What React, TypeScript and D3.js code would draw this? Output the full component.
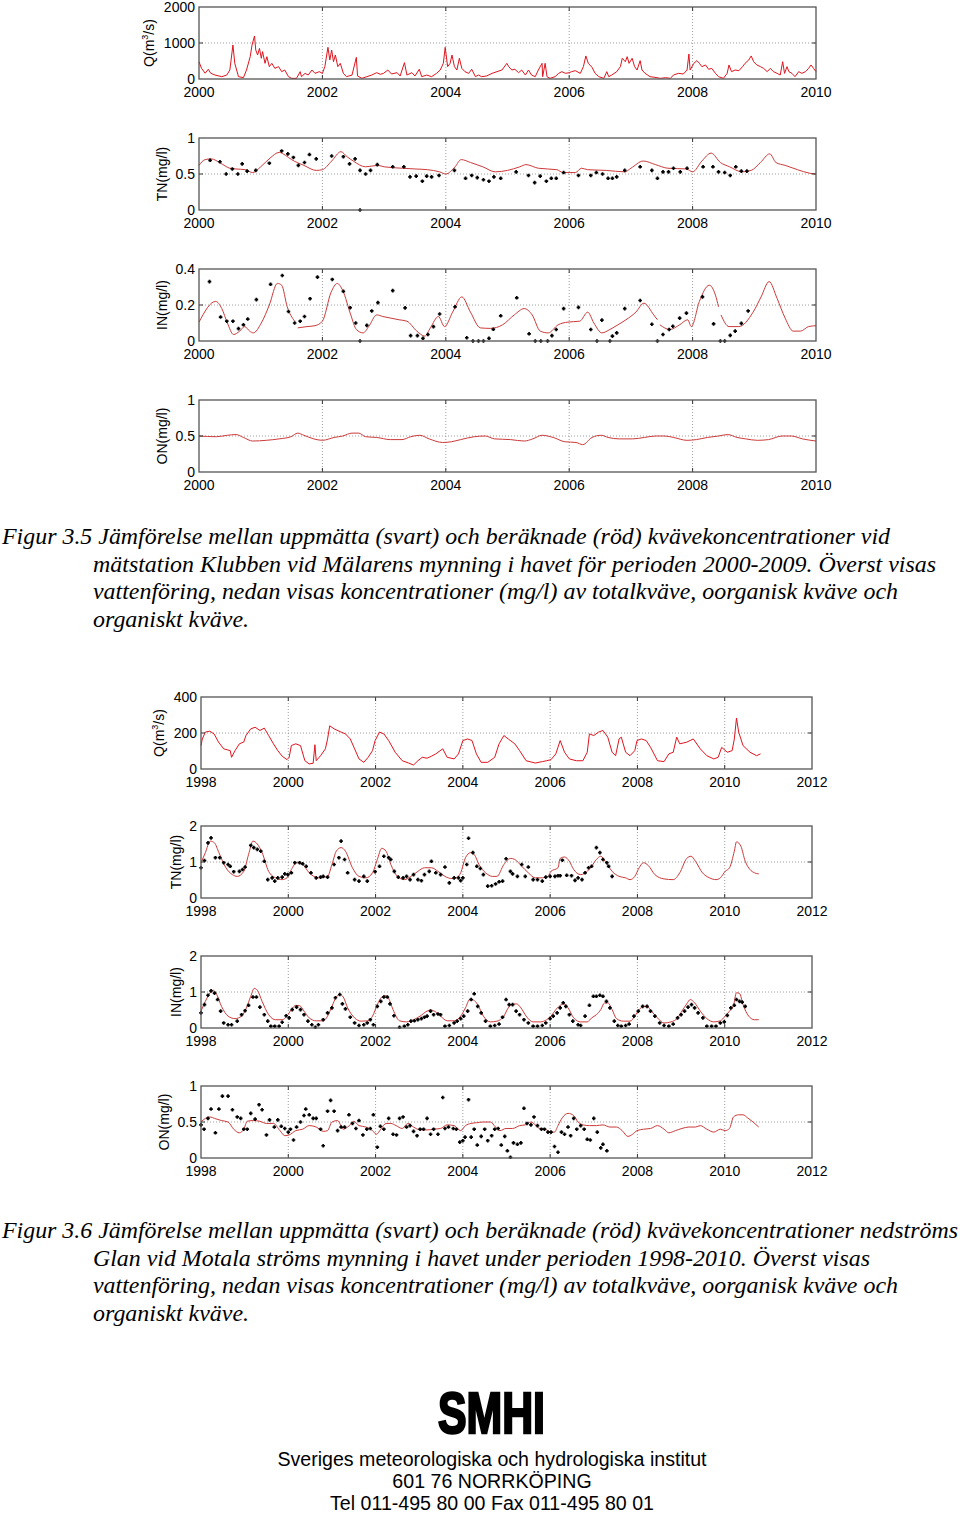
import React from 'react';
import * as d3 from 'd3';

type Pt = [number, number | null];

// ---------- Figure 3.5 (Klubben, 2000-2010) ----------
const qTop: Pt[] = [
  [2000.0, 480], [2000.04, 300], [2000.1, 160], [2000.15, 270], [2000.19, 160], [2000.26, 110], [2000.37, 65],
  [2000.45, 110], [2000.5, 250], [2000.55, 945], [2000.58, 435], [2000.64, 65], [2000.72, 37], [2000.77, 250],
  [2000.83, 620], [2000.86, 945], [2000.9, 1195], [2000.92, 805], [2000.95, 667], [2000.98, 850], [2001.01, 575],
  [2001.03, 760], [2001.07, 435], [2001.1, 620], [2001.14, 343], [2001.18, 435], [2001.23, 296], [2001.29, 343],
  [2001.34, 204], [2001.39, 250], [2001.45, 65], [2001.5, 18], [2001.58, 18], [2001.64, 204], [2001.66, 65],
  [2001.72, 157], [2001.77, 110], [2001.83, 250], [2001.88, 157], [2001.95, 204], [2002.0, 157], [2002.04, 343],
  [2002.09, 880], [2002.12, 528], [2002.15, 805], [2002.18, 480], [2002.21, 667], [2002.25, 343], [2002.29, 435],
  [2002.34, 157], [2002.39, 65], [2002.48, 110], [2002.55, 600], [2002.57, 83], [2002.64, 18], [2002.72, 65],
  [2002.8, 110], [2002.88, 176], [2002.94, 130], [2002.99, 157], [2003.06, 250], [2003.12, 139], [2003.21, 176],
  [2003.26, 83], [2003.33, 454], [2003.37, 110], [2003.45, 176], [2003.5, 83], [2003.57, 270], [2003.61, 65],
  [2003.69, 110], [2003.77, 65], [2003.85, 157], [2003.91, 250], [2003.96, 435], [2003.99, 880], [2004.03, 343],
  [2004.07, 435], [2004.1, 667], [2004.14, 343], [2004.18, 250], [2004.22, 575], [2004.26, 296], [2004.31, 204],
  [2004.37, 157], [2004.42, 270], [2004.48, 65], [2004.53, 110], [2004.58, 65], [2004.66, 83], [2004.75, 157],
  [2004.83, 204], [2004.91, 250], [2004.99, 435], [2005.02, 343], [2005.07, 250], [2005.12, 270], [2005.18, 176],
  [2005.23, 250], [2005.29, 110], [2005.34, 250], [2005.39, 110], [2005.45, 65], [2005.5, 250], [2005.56, 435],
  [2005.57, 65], [2005.61, 435], [2005.64, 65], [2005.69, 18], [2005.77, 65], [2005.83, 157], [2005.88, 204],
  [2005.94, 157], [2006.0, 176], [2006.04, 204], [2006.1, 231], [2006.18, 157], [2006.23, 343], [2006.27, 640],
  [2006.31, 435], [2006.37, 324], [2006.42, 157], [2006.48, 65], [2006.56, 18], [2006.61, 204], [2006.64, 65],
  [2006.69, 110], [2006.77, 204], [2006.83, 343], [2006.86, 575], [2006.91, 480], [2006.94, 620], [2006.97, 435],
  [2007.02, 575], [2007.06, 343], [2007.1, 250], [2007.15, 510], [2007.18, 250], [2007.23, 157], [2007.31, 65],
  [2007.39, 46], [2007.48, 18], [2007.56, 37], [2007.64, 18], [2007.69, 110], [2007.77, 157], [2007.85, 139],
  [2007.91, 250], [2007.94, 695], [2007.96, 250], [2008.02, 435], [2008.07, 510], [2008.11, 435], [2008.15, 343],
  [2008.21, 390], [2008.26, 270], [2008.31, 296], [2008.37, 157], [2008.42, 65], [2008.5, 18], [2008.56, 157],
  [2008.59, 390], [2008.63, 204], [2008.69, 250], [2008.75, 231], [2008.81, 343], [2008.85, 435], [2008.91, 528],
  [2008.95, 640], [2008.99, 480], [2009.04, 390], [2009.1, 343], [2009.15, 296], [2009.21, 204], [2009.26, 296],
  [2009.31, 204], [2009.37, 157], [2009.42, 110], [2009.46, 480], [2009.49, 157], [2009.53, 343], [2009.56, 204],
  [2009.61, 157], [2009.66, 65], [2009.72, 204], [2009.77, 157], [2009.83, 204], [2009.88, 296], [2009.92, 390],
  [2009.96, 296], [2010.0, 204],
];

const tnTopModel: Pt[] = [
  [2000.0, 0.62], [2000.1, 0.7], [2000.2, 0.71], [2000.35, 0.65], [2000.5, 0.58], [2000.6, 0.57], [2000.75, 0.56],
  [2000.87, 0.52], [2001.0, 0.6], [2001.15, 0.72], [2001.3, 0.8], [2001.4, 0.76], [2001.5, 0.7], [2001.7, 0.62],
  [2001.9, 0.55], [2002.0, 0.56], [2002.15, 0.68], [2002.3, 0.81], [2002.4, 0.74], [2002.5, 0.68], [2002.7, 0.6],
  [2002.9, 0.62], [2003.0, 0.6], [2003.3, 0.58], [2003.5, 0.57], [2003.7, 0.56], [2003.9, 0.53], [2004.0, 0.5],
  [2004.15, 0.6], [2004.25, 0.7], [2004.4, 0.66], [2004.6, 0.6], [2004.8, 0.53], [2005.0, 0.55], [2005.2, 0.6],
  [2005.3, 0.63], [2005.5, 0.58], [2005.8, 0.56], [2005.9, 0.52], [2006.1, 0.52], [2006.2, 0.58], [2006.3, 0.56],
  [2006.6, 0.55], [2006.9, 0.53], [2007.0, 0.58], [2007.2, 0.68], [2007.4, 0.63], [2007.6, 0.58], [2007.9, 0.57],
  [2008.0, 0.53], [2008.15, 0.68], [2008.3, 0.79], [2008.45, 0.66], [2008.6, 0.6], [2008.8, 0.53], [2008.95, 0.55],
  [2009.1, 0.66], [2009.25, 0.78], [2009.35, 0.66], [2009.5, 0.62], [2009.7, 0.56], [2009.9, 0.51], [2010.0, 0.5],
];

const tnTopObs: Pt[] = [
  [2000.18, 0.69], [2000.34, 0.67], [2000.44, 0.5], [2000.54, 0.57], [2000.63, 0.5], [2000.7, 0.64], [2000.78, 0.54],
  [2000.92, 0.55], [2001.14, 0.65], [2001.34, 0.82], [2001.44, 0.78], [2001.53, 0.73], [2001.61, 0.62], [2001.71, 0.66],
  [2001.79, 0.77], [2001.9, 0.71], [2002.15, 0.75], [2002.34, 0.74], [2002.44, 0.64], [2002.53, 0.71], [2002.61, 0.55],
  [2002.61, 0.0], [2002.7, 0.5], [2002.78, 0.55], [2002.89, 0.63], [2003.14, 0.6], [2003.32, 0.6], [2003.42, 0.46],
  [2003.52, 0.47], [2003.62, 0.4], [2003.69, 0.47], [2003.77, 0.46], [2003.89, 0.48], [2004.14, 0.55], [2004.32, 0.44],
  [2004.42, 0.48], [2004.51, 0.45], [2004.61, 0.42], [2004.7, 0.4], [2004.78, 0.46], [2004.89, 0.44], [2005.14, 0.53],
  [2005.34, 0.48], [2005.44, 0.38], [2005.53, 0.47], [2005.63, 0.4], [2005.71, 0.44], [2005.79, 0.44], [2005.91, 0.52],
  [2006.15, 0.48], [2006.35, 0.48], [2006.44, 0.52], [2006.54, 0.5], [2006.63, 0.44], [2006.7, 0.44], [2006.77, 0.46],
  [2006.9, 0.55], [2007.15, 0.6], [2007.34, 0.55], [2007.43, 0.44], [2007.52, 0.53], [2007.61, 0.53], [2007.69, 0.58],
  [2007.8, 0.53], [2007.91, 0.58], [2008.17, 0.6], [2008.33, 0.6], [2008.42, 0.53], [2008.52, 0.52], [2008.61, 0.48],
  [2008.7, 0.6], [2008.79, 0.54], [2008.88, 0.54],
];

const inTopModel: Pt[] = [
  [2000.0, 0.105], [2000.27, 0.22], [2000.37, 0.18], [2000.46, 0.1], [2000.56, 0.036], [2000.66, 0.055], [2000.74, 0.08],
  [2000.82, 0.055], [2000.88, 0.045], [2001.01, 0.1], [2001.14, 0.2], [2001.27, 0.32], [2001.34, 0.31], [2001.43, 0.19],
  [2001.55, 0.11], [2001.57, null], [2001.6, 0.073], [2001.75, 0.08], [2001.88, 0.085], [2002.0, 0.11], [2002.14, 0.27],
  [2002.24, 0.32], [2002.33, 0.28], [2002.46, 0.145], [2002.55, 0.064], [2002.66, 0.045], [2002.75, 0.08], [2002.88, 0.145],
  [2002.98, 0.136], [2003.11, 0.127], [2003.24, 0.118], [2003.37, 0.11], [2003.53, 0.055], [2003.66, 0.027], [2003.75, 0.073],
  [2003.88, 0.136], [2003.98, 0.08], [2004.11, 0.16], [2004.26, 0.245], [2004.4, 0.16], [2004.56, 0.073], [2004.72, 0.07],
  [2004.92, 0.09], [2005.11, 0.145], [2005.27, 0.18], [2005.4, 0.145], [2005.53, 0.055], [2005.66, 0.045], [2005.82, 0.09],
  [2005.98, 0.105], [2006.17, 0.11], [2006.3, 0.16], [2006.4, 0.1], [2006.53, 0.045], [2006.66, 0.064], [2006.79, 0.09],
  [2006.92, 0.118], [2007.08, 0.16], [2007.21, 0.21], [2007.37, 0.145], [2007.43, 0.118], [2007.45, null], [2007.47, 0.09],
  [2007.63, 0.064], [2007.79, 0.09], [2007.92, 0.118], [2007.98, 0.08], [2008.11, 0.22], [2008.27, 0.31], [2008.37, 0.255],
  [2008.42, 0.19], [2008.44, null], [2008.46, 0.145], [2008.59, 0.08], [2008.75, 0.08], [2008.98, 0.16], [2009.11, 0.245],
  [2009.24, 0.33], [2009.37, 0.236], [2009.5, 0.127], [2009.63, 0.055], [2009.75, 0.055], [2009.88, 0.08], [2010.0, 0.085],
];

const inTopObs: Pt[] = [
  [2000.17, 0.33], [2000.35, 0.133], [2000.45, 0.11], [2000.55, 0.11], [2000.64, 0.069], [2000.72, 0.09], [2000.79, 0.122],
  [2000.93, 0.23], [2001.16, 0.315], [2001.35, 0.364], [2001.45, 0.164], [2001.55, 0.1], [2001.64, 0.11], [2001.71, 0.136],
  [2001.8, 0.235], [2001.92, 0.355], [2002.16, 0.342], [2002.34, 0.276], [2002.45, 0.185], [2002.54, 0.1], [2002.61, 0.0],
  [2002.72, 0.087], [2002.8, 0.167], [2002.9, 0.213], [2003.14, 0.28], [2003.34, 0.184], [2003.43, 0.03], [2003.54, 0.03],
  [2003.63, 0.015], [2003.71, 0.036], [2003.8, 0.08], [2003.9, 0.15], [2004.15, 0.19], [2004.34, 0.018], [2004.44, 0.0],
  [2004.53, 0.0], [2004.61, 0.0], [2004.7, 0.015], [2004.77, 0.065], [2004.89, 0.14], [2005.15, 0.24], [2005.35, 0.04],
  [2005.45, 0.0], [2005.54, 0.0], [2005.65, 0.0], [2005.72, 0.03], [2005.79, 0.064], [2005.91, 0.18], [2006.15, 0.187],
  [2006.35, 0.064], [2006.45, 0.0], [2006.53, 0.116], [2006.66, 0.0], [2006.7, 0.027], [2006.77, 0.045], [2006.9, 0.18],
  [2007.15, 0.225], [2007.34, 0.093], [2007.43, 0.0], [2007.52, 0.036], [2007.62, 0.064], [2007.68, 0.082], [2007.79, 0.127],
  [2007.9, 0.155], [2008.16, 0.245], [2008.34, 0.095], [2008.45, 0.0], [2008.52, 0.0], [2008.61, 0.031], [2008.69, 0.055],
  [2008.79, 0.098], [2008.9, 0.167],
];

const onTopModel: Pt[] = [
  [2000.0, 0.5], [2000.28, 0.49], [2000.46, 0.51], [2000.6, 0.52], [2000.72, 0.48], [2000.87, 0.43], [2001.09, 0.44],
  [2001.3, 0.46], [2001.49, 0.49], [2001.6, 0.54], [2001.7, 0.51], [2001.86, 0.46], [2002.0, 0.44], [2002.19, 0.48],
  [2002.33, 0.5], [2002.48, 0.54], [2002.59, 0.54], [2002.7, 0.49], [2002.88, 0.48], [2003.1, 0.45], [2003.29, 0.45],
  [2003.43, 0.49], [2003.58, 0.51], [2003.73, 0.46], [2003.95, 0.41], [2004.09, 0.42], [2004.24, 0.45], [2004.46, 0.49],
  [2004.64, 0.5], [2004.79, 0.46], [2005.05, 0.45], [2005.27, 0.43], [2005.41, 0.46], [2005.56, 0.51], [2005.74, 0.48],
  [2005.93, 0.42], [2006.11, 0.41], [2006.22, 0.38], [2006.37, 0.48], [2006.52, 0.51], [2006.63, 0.48], [2006.81, 0.46],
  [2007.03, 0.46], [2007.22, 0.48], [2007.4, 0.5], [2007.55, 0.5], [2007.69, 0.48], [2007.91, 0.44], [2008.06, 0.45],
  [2008.24, 0.48], [2008.42, 0.5], [2008.57, 0.52], [2008.72, 0.48], [2008.86, 0.46], [2009.05, 0.44], [2009.23, 0.45],
  [2009.45, 0.5], [2009.6, 0.5], [2009.78, 0.46], [2010.0, 0.43],
];

// ---------- Figure 3.6 (Motala ström, 1998-2012) ----------
const qBot: Pt[] = [
  [1998.0, 130], [1998.03, 167], [1998.1, 205], [1998.2, 210], [1998.3, 195], [1998.4, 150], [1998.52, 112], [1998.67, 102],
  [1998.7, 65], [1998.78, 102], [1998.88, 140], [1998.98, 150], [1999.03, 186], [1999.14, 223], [1999.24, 232], [1999.35, 214],
  [1999.45, 227], [1999.55, 186], [1999.66, 140], [1999.76, 102], [1999.86, 71], [1999.97, 52], [2000.02, 65], [2000.07, 130],
  [2000.17, 140], [2000.28, 130], [2000.38, 46], [2000.48, 28], [2000.57, 32], [2000.61, 135], [2000.64, 46], [2000.74, 74],
  [2000.85, 112], [2000.9, 167], [2000.95, 240], [2001.05, 223], [2001.21, 205], [2001.31, 195], [2001.42, 167], [2001.52, 112],
  [2001.62, 56], [2001.73, 37], [2001.83, 65], [2001.93, 102], [2001.99, 158], [2002.09, 205], [2002.19, 195], [2002.3, 158],
  [2002.45, 93], [2002.61, 46], [2002.76, 33], [2002.87, 22], [2002.97, 46], [2003.07, 65], [2003.18, 60], [2003.28, 71],
  [2003.38, 84], [2003.54, 112], [2003.64, 65], [2003.8, 56], [2003.9, 84], [2004.0, 158], [2004.11, 167], [2004.21, 158],
  [2004.31, 84], [2004.42, 37], [2004.57, 37], [2004.73, 65], [2004.83, 140], [2004.94, 186], [2005.04, 167], [2005.19, 140],
  [2005.3, 102], [2005.45, 46], [2005.66, 33], [2005.82, 41], [2005.92, 46], [2006.02, 52], [2006.13, 84], [2006.23, 158],
  [2006.33, 93], [2006.44, 56], [2006.6, 46], [2006.75, 46], [2006.85, 93], [2006.9, 195], [2007.0, 186], [2007.11, 205],
  [2007.21, 214], [2007.32, 177], [2007.42, 93], [2007.5, 74], [2007.58, 167], [2007.63, 177], [2007.73, 93], [2007.83, 74],
  [2007.94, 102], [2007.99, 158], [2008.09, 167], [2008.2, 158], [2008.3, 121], [2008.46, 46], [2008.61, 41], [2008.72, 84],
  [2008.82, 93], [2008.9, 177], [2008.97, 140], [2009.13, 149], [2009.28, 167], [2009.44, 112], [2009.59, 74], [2009.75, 56],
  [2009.85, 65], [2009.93, 120], [2010.06, 93], [2010.17, 102], [2010.22, 167], [2010.27, 283], [2010.32, 205], [2010.42, 130],
  [2010.58, 93], [2010.73, 74], [2010.82, 84],
];

const tnBotModel: Pt[] = [
  [1998.0, 0.98], [1998.1, 1.26], [1998.21, 1.58], [1998.31, 1.53], [1998.41, 1.26], [1998.57, 0.84], [1998.72, 0.65],
  [1998.83, 0.6], [1998.98, 0.74], [1999.09, 1.21], [1999.19, 1.58], [1999.29, 1.5], [1999.4, 1.26], [1999.55, 0.74],
  [1999.71, 0.56], [1999.86, 0.51], [1999.97, 0.56], [2000.07, 0.79], [2000.19, 0.98], [2000.33, 0.93], [2000.48, 0.7],
  [2000.69, 0.56], [2000.9, 0.6], [2001.0, 0.93], [2001.1, 1.3], [2001.21, 1.4], [2001.31, 1.3], [2001.47, 0.84],
  [2001.62, 0.6], [2001.78, 0.56], [2001.93, 0.7], [2002.04, 1.07], [2002.14, 1.38], [2002.24, 1.3], [2002.35, 0.93],
  [2002.5, 0.6], [2002.66, 0.51], [2002.81, 0.6], [2002.97, 0.74], [2003.12, 0.84], [2003.28, 0.84], [2003.43, 0.74],
  [2003.59, 0.6], [2003.75, 0.54], [2003.85, 0.56], [2003.95, 0.7], [2004.06, 1.12], [2004.18, 1.26], [2004.26, 1.21],
  [2004.37, 0.93], [2004.52, 0.7], [2004.68, 0.6], [2004.78, 0.6], [2004.94, 0.93], [2005.09, 1.1], [2005.19, 1.07],
  [2005.35, 0.88], [2005.5, 0.7], [2005.66, 0.56], [2005.82, 0.56], [2005.95, 0.6], [2006.02, 0.74], [2006.18, 0.84],
  [2006.23, 1.1], [2006.33, 1.14], [2006.44, 1.02], [2006.54, 0.79], [2006.7, 0.65], [2006.85, 0.74], [2006.95, 0.88],
  [2007.06, 1.07], [2007.16, 1.16], [2007.26, 1.02], [2007.42, 0.74], [2007.58, 0.6], [2007.73, 0.56], [2007.83, 0.51],
  [2007.94, 0.6], [2008.04, 0.84], [2008.14, 0.98], [2008.25, 0.9], [2008.4, 0.65], [2008.61, 0.53], [2008.82, 0.51],
  [2008.97, 0.7], [2009.13, 1.1], [2009.23, 1.16], [2009.33, 1.02], [2009.49, 0.7], [2009.65, 0.56], [2009.8, 0.51],
  [2009.9, 0.56], [2010.01, 0.74], [2010.11, 0.84], [2010.22, 1.3], [2010.27, 1.56], [2010.37, 1.44], [2010.47, 1.02],
  [2010.58, 0.79], [2010.68, 0.7], [2010.78, 0.67],
];

const tnBotObs: Pt[] = [
  [1998.0, 0.84], [1998.08, 1.04], [1998.16, 1.53], [1998.23, 1.67], [1998.33, 1.12], [1998.43, 1.12], [1998.52, 0.98],
  [1998.62, 0.93], [1998.67, 0.88], [1998.75, 0.73], [1998.88, 0.74], [1998.95, 0.79], [1999.01, 0.86], [1999.14, 1.46],
  [1999.21, 1.4], [1999.29, 1.35], [1999.37, 1.3], [1999.45, 1.02], [1999.53, 0.51], [1999.63, 0.56], [1999.69, 0.47],
  [1999.76, 0.56], [1999.86, 0.58], [1999.92, 0.67], [1999.99, 0.65], [2000.07, 0.7], [2000.15, 0.98], [2000.26, 0.98],
  [2000.33, 0.95], [2000.41, 0.88], [2000.52, 0.7], [2000.64, 0.56], [2000.74, 0.58], [2000.8, 0.6], [2000.9, 0.58],
  [2001.05, 0.93], [2001.16, 1.12], [2001.21, 1.58], [2001.29, 1.07], [2001.36, 0.7], [2001.52, 0.51], [2001.62, 0.47],
  [2001.73, 0.6], [2001.81, 0.47], [2001.99, 0.73], [2002.09, 0.88], [2002.19, 1.16], [2002.3, 1.12], [2002.35, 1.07],
  [2002.43, 0.74], [2002.52, 0.58], [2002.63, 0.56], [2002.71, 0.6], [2002.79, 0.51], [2002.87, 0.65], [2002.97, 0.51],
  [2003.05, 0.48], [2003.12, 0.65], [2003.23, 0.74], [2003.28, 1.02], [2003.38, 0.7], [2003.49, 0.65], [2003.59, 0.86],
  [2003.69, 0.42], [2003.8, 0.56], [2003.9, 0.56], [2003.95, 0.48], [2004.0, 0.56], [2004.09, 0.93], [2004.13, 1.66],
  [2004.23, 1.26], [2004.32, 0.88], [2004.4, 0.82], [2004.47, 0.65], [2004.57, 0.33], [2004.66, 0.34], [2004.75, 0.39],
  [2004.83, 0.45], [2004.91, 0.47], [2004.99, 1.09], [2005.09, 0.74], [2005.14, 0.67], [2005.25, 0.6], [2005.35, 0.93],
  [2005.43, 0.6], [2005.5, 0.86], [2005.61, 0.51], [2005.71, 0.51], [2005.82, 0.47], [2005.9, 0.58], [2006.0, 0.6],
  [2006.11, 0.6], [2006.18, 0.62], [2006.23, 0.62], [2006.28, 1.05], [2006.38, 0.63], [2006.49, 0.62], [2006.57, 0.49],
  [2006.64, 0.56], [2006.73, 0.51], [2006.8, 0.7], [2006.88, 0.84], [2006.95, 0.88], [2007.06, 1.4], [2007.14, 1.26],
  [2007.21, 1.07], [2007.3, 0.98], [2007.34, 0.88], [2007.42, 0.6],
];

const inBotModel: Pt[] = [
  [1998.0, 0.47], [1998.1, 0.74], [1998.21, 0.98], [1998.28, 1.05], [1998.36, 0.93], [1998.47, 0.6], [1998.62, 0.33],
  [1998.78, 0.26], [1998.93, 0.33], [1999.04, 0.56], [1999.14, 0.88], [1999.22, 1.1], [1999.29, 1.05], [1999.4, 0.74],
  [1999.55, 0.37], [1999.71, 0.23], [1999.86, 0.23], [1999.97, 0.33], [2000.07, 0.51], [2000.17, 0.63], [2000.26, 0.62],
  [2000.36, 0.47], [2000.48, 0.28], [2000.64, 0.2], [2000.8, 0.2], [2000.9, 0.33], [2001.0, 0.6], [2001.1, 0.86],
  [2001.18, 0.93], [2001.26, 0.86], [2001.36, 0.56], [2001.52, 0.28], [2001.67, 0.19], [2001.83, 0.2], [2001.93, 0.33],
  [2002.04, 0.65], [2002.14, 0.86], [2002.22, 0.9], [2002.3, 0.82], [2002.4, 0.51], [2002.55, 0.2], [2002.71, 0.17],
  [2002.87, 0.23], [2003.02, 0.33], [2003.18, 0.47], [2003.26, 0.5], [2003.36, 0.46], [2003.49, 0.33], [2003.64, 0.2],
  [2003.8, 0.2], [2003.95, 0.33], [2004.06, 0.56], [2004.16, 0.8], [2004.24, 0.78], [2004.34, 0.65], [2004.47, 0.33],
  [2004.63, 0.17], [2004.78, 0.19], [2004.94, 0.33], [2005.04, 0.56], [2005.14, 0.66], [2005.23, 0.67], [2005.33, 0.56],
  [2005.45, 0.33], [2005.61, 0.17], [2005.78, 0.17], [2005.92, 0.23], [2006.02, 0.33], [2006.13, 0.51], [2006.26, 0.65],
  [2006.31, 0.67], [2006.41, 0.56], [2006.54, 0.28], [2006.7, 0.17], [2006.85, 0.17], [2006.95, 0.28], [2007.06, 0.37],
  [2007.16, 0.51], [2007.24, 0.69], [2007.32, 0.7], [2007.42, 0.51], [2007.52, 0.26], [2007.68, 0.19], [2007.83, 0.19],
  [2007.94, 0.33], [2008.04, 0.51], [2008.14, 0.6], [2008.22, 0.6], [2008.32, 0.47], [2008.46, 0.28], [2008.61, 0.14],
  [2008.77, 0.17], [2008.92, 0.28], [2009.02, 0.47], [2009.13, 0.67], [2009.21, 0.79], [2009.31, 0.7], [2009.44, 0.47],
  [2009.59, 0.26], [2009.75, 0.17], [2009.9, 0.2], [2010.01, 0.33], [2010.11, 0.47], [2010.2, 0.62], [2010.27, 0.98],
  [2010.34, 0.96], [2010.42, 0.65], [2010.55, 0.33], [2010.68, 0.23], [2010.78, 0.23],
];

const inBotObs: Pt[] = [
  [1998.0, 0.42], [1998.08, 0.65], [1998.16, 0.91], [1998.23, 1.03], [1998.31, 0.97], [1998.38, 0.79], [1998.45, 0.47],
  [1998.52, 0.14], [1998.62, 0.09], [1998.7, 0.09], [1998.83, 0.19], [1998.93, 0.37], [1999.01, 0.48], [1999.09, 0.63],
  [1999.19, 0.86], [1999.27, 0.86], [1999.35, 0.58], [1999.45, 0.37], [1999.53, 0.19], [1999.6, 0.05], [1999.69, 0.05],
  [1999.79, 0.05], [1999.86, 0.16], [1999.95, 0.34], [2000.02, 0.28], [2000.09, 0.51], [2000.19, 0.58], [2000.28, 0.51],
  [2000.36, 0.37], [2000.45, 0.19], [2000.54, 0.09], [2000.62, 0.02], [2000.69, 0.09], [2000.8, 0.23], [2000.9, 0.42],
  [2001.0, 0.56], [2001.08, 0.84], [2001.18, 0.93], [2001.24, 0.67], [2001.31, 0.53], [2001.42, 0.3], [2001.52, 0.14],
  [2001.62, 0.07], [2001.73, 0.09], [2001.81, 0.14], [2001.88, 0.23], [2001.95, 0.09], [2002.04, 0.6], [2002.12, 0.74],
  [2002.19, 0.86], [2002.27, 0.86], [2002.33, 0.67], [2002.42, 0.34], [2002.55, 0.02], [2002.66, 0.05], [2002.74, 0.09],
  [2002.81, 0.19], [2002.89, 0.2], [2002.97, 0.23], [2003.05, 0.26], [2003.12, 0.3], [2003.18, 0.33], [2003.26, 0.47],
  [2003.33, 0.37], [2003.43, 0.39], [2003.49, 0.37], [2003.59, 0.05], [2003.69, 0.07], [2003.8, 0.14], [2003.87, 0.19],
  [2003.95, 0.26], [2004.02, 0.33], [2004.11, 0.47], [2004.19, 0.79], [2004.26, 0.95], [2004.34, 0.6], [2004.42, 0.42],
  [2004.52, 0.19], [2004.63, 0.05], [2004.73, 0.07], [2004.83, 0.11], [2004.91, 0.3], [2004.99, 0.79], [2005.06, 0.65],
  [2005.14, 0.65], [2005.22, 0.47], [2005.3, 0.37], [2005.4, 0.23], [2005.5, 0.14], [2005.61, 0.05], [2005.71, 0.05],
  [2005.82, 0.07], [2005.9, 0.14], [2006.0, 0.26], [2006.07, 0.33], [2006.16, 0.42], [2006.23, 0.56], [2006.3, 0.7],
  [2006.36, 0.6], [2006.44, 0.37], [2006.52, 0.19], [2006.64, 0.09], [2006.7, 0.07], [2006.8, 0.33], [2006.9, 0.63],
  [2006.99, 0.88], [2007.06, 0.88], [2007.14, 0.91], [2007.21, 0.88], [2007.29, 0.74], [2007.37, 0.56], [2007.47, 0.19],
  [2007.55, 0.07], [2007.63, 0.05], [2007.73, 0.07], [2007.81, 0.11], [2007.92, 0.33], [2008.02, 0.47], [2008.12, 0.6],
  [2008.22, 0.6], [2008.3, 0.47], [2008.4, 0.33], [2008.51, 0.14], [2008.61, 0.07], [2008.72, 0.05], [2008.82, 0.11],
  [2008.92, 0.28], [2009.0, 0.37], [2009.08, 0.47], [2009.16, 0.58], [2009.24, 0.65], [2009.31, 0.56], [2009.39, 0.42],
  [2009.5, 0.28], [2009.59, 0.05], [2009.7, 0.05], [2009.8, 0.05], [2009.9, 0.14], [2009.99, 0.17], [2010.06, 0.35],
  [2010.14, 0.56], [2010.22, 0.63], [2010.27, 0.79], [2010.34, 0.74], [2010.4, 0.72], [2010.47, 0.6],
];

const onBotModel: Pt[] = [
  [1998.0, 0.5], [1998.1, 0.55], [1998.21, 0.57], [1998.31, 0.55], [1998.47, 0.52], [1998.62, 0.5], [1998.75, 0.4],
  [1998.88, 0.35], [1998.98, 0.4], [1999.06, 0.51], [1999.19, 0.52], [1999.35, 0.51], [1999.5, 0.48], [1999.66, 0.48],
  [1999.81, 0.38], [1999.92, 0.31], [2000.02, 0.32], [2000.17, 0.38], [2000.33, 0.4], [2000.48, 0.45], [2000.64, 0.43],
  [2000.8, 0.37], [2000.9, 0.38], [2001.0, 0.5], [2001.13, 0.52], [2001.26, 0.4], [2001.4, 0.45], [2001.5, 0.51],
  [2001.62, 0.45], [2001.78, 0.43], [2001.93, 0.38], [2002.02, 0.33], [2002.12, 0.4], [2002.24, 0.48], [2002.35, 0.48],
  [2002.47, 0.45], [2002.61, 0.41], [2002.74, 0.48], [2002.87, 0.43], [2003.02, 0.39], [2003.18, 0.39], [2003.33, 0.4],
  [2003.49, 0.41], [2003.64, 0.46], [2003.8, 0.45], [2003.95, 0.38], [2004.06, 0.45], [2004.19, 0.48], [2004.31, 0.49],
  [2004.47, 0.5], [2004.63, 0.5], [2004.75, 0.43], [2004.85, 0.38], [2004.99, 0.41], [2005.14, 0.41], [2005.3, 0.45],
  [2005.43, 0.46], [2005.56, 0.5], [2005.66, 0.46], [2005.76, 0.41], [2005.89, 0.4], [2006.0, 0.36], [2006.1, 0.36],
  [2006.18, 0.45], [2006.28, 0.56], [2006.41, 0.62], [2006.54, 0.59], [2006.64, 0.5], [2006.75, 0.46], [2006.9, 0.45],
  [2007.06, 0.45], [2007.21, 0.46], [2007.37, 0.43], [2007.52, 0.43], [2007.65, 0.38], [2007.78, 0.3], [2007.89, 0.33],
  [2007.99, 0.38], [2008.14, 0.4], [2008.3, 0.41], [2008.46, 0.45], [2008.61, 0.4], [2008.72, 0.35], [2008.87, 0.38],
  [2009.02, 0.41], [2009.18, 0.43], [2009.33, 0.43], [2009.44, 0.45], [2009.59, 0.4], [2009.75, 0.36], [2009.9, 0.4],
  [2010.01, 0.38], [2010.11, 0.41], [2010.2, 0.57], [2010.32, 0.6], [2010.42, 0.6], [2010.52, 0.56], [2010.65, 0.5],
  [2010.78, 0.43],
];

const onBotObs: Pt[] = [
  [1998.0, 0.46], [1998.07, 0.4], [1998.16, 0.55], [1998.23, 0.68], [1998.33, 0.35], [1998.41, 0.68], [1998.49, 0.86],
  [1998.62, 0.86], [1998.72, 0.67], [1998.83, 0.57], [1998.91, 0.55], [1998.98, 0.4], [1999.06, 0.4], [1999.14, 0.62],
  [1999.24, 0.54], [1999.33, 0.74], [1999.4, 0.67], [1999.5, 0.32], [1999.57, 0.53], [1999.68, 0.43], [1999.76, 0.53],
  [1999.84, 0.44], [1999.92, 0.41], [2000.0, 0.36], [2000.05, 0.4], [2000.12, 0.25], [2000.19, 0.43], [2000.28, 0.5],
  [2000.36, 0.59], [2000.4, 0.68], [2000.48, 0.6], [2000.57, 0.55], [2000.64, 0.55], [2000.74, 0.4], [2000.8, 0.17],
  [2000.9, 0.65], [2000.97, 0.8], [2001.05, 0.65], [2001.13, 0.38], [2001.21, 0.43], [2001.29, 0.43], [2001.39, 0.6],
  [2001.47, 0.48], [2001.55, 0.41], [2001.62, 0.52], [2001.71, 0.32], [2001.8, 0.4], [2001.88, 0.41], [2001.95, 0.6],
  [2002.04, 0.15], [2002.11, 0.44], [2002.19, 0.4], [2002.3, 0.55], [2002.4, 0.33], [2002.48, 0.32], [2002.55, 0.55],
  [2002.63, 0.57], [2002.71, 0.43], [2002.79, 0.45], [2002.87, 0.37], [2002.95, 0.31], [2003.02, 0.4], [2003.1, 0.4],
  [2003.18, 0.55], [2003.26, 0.33], [2003.33, 0.4], [2003.43, 0.33], [2003.54, 0.84], [2003.59, 0.41], [2003.67, 0.43],
  [2003.78, 0.41], [2003.85, 0.4], [2003.93, 0.22], [2004.0, 0.24], [2004.05, 0.29], [2004.13, 0.81], [2004.19, 0.29],
  [2004.26, 0.4], [2004.33, 0.18], [2004.42, 0.3], [2004.5, 0.4], [2004.57, 0.24], [2004.66, 0.31], [2004.73, 0.4],
  [2004.81, 0.41], [2004.88, 0.18], [2004.96, 0.3], [2005.02, 0.1], [2005.09, 0.01], [2005.16, 0.21], [2005.25, 0.19],
  [2005.33, 0.21], [2005.4, 0.69], [2005.47, 0.48], [2005.56, 0.46], [2005.63, 0.57], [2005.71, 0.45], [2005.8, 0.4],
  [2005.87, 0.4], [2005.95, 0.36], [2006.02, 0.36], [2006.1, 0.16], [2006.18, 0.08], [2006.26, 0.36], [2006.33, 0.33],
  [2006.41, 0.43], [2006.47, 0.31], [2006.54, 0.55], [2006.61, 0.4], [2006.7, 0.45], [2006.78, 0.4], [2006.85, 0.26],
  [2006.92, 0.25], [2007.0, 0.55], [2007.08, 0.36], [2007.16, 0.14], [2007.21, 0.19], [2007.3, 0.1],
];

// ---------- Text ----------
const yearsTop = [2000, 2002, 2004, 2006, 2008, 2010];
const yearsBot = [1998, 2000, 2002, 2004, 2006, 2008, 2010, 2012];

const caption35 = [
  'Figur 3.5 Jämförelse mellan uppmätta (svart) och beräknade (röd) kvävekoncentrationer vid',
  'mätstation Klubben vid Mälarens mynning i havet för perioden 2000-2009. Överst visas',
  'vattenföring, nedan visas koncentrationer (mg/l) av totalkväve, oorganisk kväve och',
  'organiskt kväve.',
];
const caption36 = [
  'Figur 3.6 Jämförelse mellan uppmätta (svart) och beräknade (röd) kvävekoncentrationer nedströms',
  'Glan vid Motala ströms mynning i havet under perioden 1998-2010. Överst visas',
  'vattenföring, nedan visas koncentrationer (mg/l) av totalkväve, oorganisk kväve och',
  'organiskt kväve.',
];
const footerLines = [
  'Sveriges meteorologiska och hydrologiska institut',
  '601 76 NORRKÖPING',
  'Tel 011-495 80 00 Fax 011-495 80 01',
];

const SANS = "'Liberation Sans', Arial, Helvetica, sans-serif";
const SERIF = "'Liberation Serif', 'Times New Roman', Times, serif";
const Q_RED = '#e0141e';
const C_RED = '#cc3a3a';

interface PanelProps {
  x0: number; x1: number; top: number; h: number;
  xDomain: [number, number]; xTicks: number[];
  yDomain: [number, number]; yTicks: number[]; yFmt: (v: number) => string;
  label: string; labelX: number; isQ?: boolean;
  line: Pt[]; color: string; smooth?: boolean;
  obs?: Pt[];
}

function Panel(p: PanelProps) {
  const x = d3.scaleLinear().domain(p.xDomain).range([p.x0, p.x1]);
  const y = d3.scaleLinear().domain(p.yDomain).range([p.top + p.h, p.top]);
  const lineGen = d3
    .line<Pt>()
    .defined((d) => d[1] !== null)
    .x((d) => x(d[0]))
    .y((d) => y(d[1] as number))
    .curve(p.smooth ? d3.curveMonotoneX : d3.curveLinear);
  const bottom = p.top + p.h;
  const innerX = p.xTicks.filter((t) => t > p.xDomain[0] && t < p.xDomain[1]);
  const innerY = p.yTicks.filter((t) => t > p.yDomain[0] && t < p.yDomain[1]);
  const cy = p.top + p.h / 2;
  return (
    <g>
      {innerX.map((t) => (
        <line key={'gx' + t} x1={x(t)} x2={x(t)} y1={p.top} y2={bottom} stroke="#888" strokeWidth={0.8} strokeDasharray="1,2" />
      ))}
      {innerY.map((t) => (
        <line key={'gy' + t} x1={p.x0} x2={p.x1} y1={y(t)} y2={y(t)} stroke="#888" strokeWidth={0.8} strokeDasharray="1,2" />
      ))}
      <path d={lineGen(p.line) || ''} fill="none" stroke={p.color} strokeWidth={1} strokeLinejoin="round" />
      {p.obs &&
        p.obs.map((d, i) => (
          <path
            key={'o' + i}
            d={`M${x(d[0]) - 1.8},${y(d[1] as number)}h3.6M${x(d[0])},${y(d[1] as number) - 1.8}v3.6`}
            stroke="#000"
            strokeWidth={1.7}
          />
        ))}
      {innerX.map((t) => (
        <g key={'tx' + t}>
          <line x1={x(t)} x2={x(t)} y1={bottom} y2={bottom - 4} stroke="#333" strokeWidth={1} />
          <line x1={x(t)} x2={x(t)} y1={p.top} y2={p.top + 4} stroke="#333" strokeWidth={1} />
        </g>
      ))}
      {innerY.map((t) => (
        <g key={'ty' + t}>
          <line x1={p.x0} x2={p.x0 + 4} y1={y(t)} y2={y(t)} stroke="#333" strokeWidth={1} />
          <line x1={p.x1} x2={p.x1 - 4} y1={y(t)} y2={y(t)} stroke="#333" strokeWidth={1} />
        </g>
      ))}
      <rect x={p.x0} y={p.top} width={p.x1 - p.x0} height={p.h} fill="none" stroke="#555" strokeWidth={1.3} />
      {p.xTicks.map((t) => (
        <text key={'lx' + t} x={x(t)} y={bottom + 17.5} textAnchor="middle" fontFamily={SANS} fontSize={14} fill="#000">
          {t}
        </text>
      ))}
      {p.yTicks.map((t) => (
        <text key={'ly' + t} x={p.x0 - 4} y={y(t) + 4.5} textAnchor="end" fontFamily={SANS} fontSize={14} fill="#000">
          {p.yFmt(t)}
        </text>
      ))}
      <text transform={`translate(${p.labelX},${cy}) rotate(-90)`} textAnchor="middle" fontFamily={SANS} fontSize={14} fill="#000" dy={5}>
        {p.isQ ? (
          <>
            <tspan>Q(m</tspan>
            <tspan fontSize={9} dy={-6}>3</tspan>
            <tspan dy={6}>/s)</tspan>
          </>
        ) : (
          p.label
        )}
      </text>
    </g>
  );
}

function Caption({ lines, y0, widths }: { lines: string[]; y0: number; widths: number[] }) {
  return (
    <g>
      {lines.map((l, i) => (
        <text
          key={i}
          x={i === 0 ? 2 : 93}
          y={y0 + i * 27.5}
          fontFamily={SERIF}
          fontStyle="italic"
          fontSize={23}
          fill="#000"
          textLength={widths[i]}
          lengthAdjust="spacingAndGlyphs"
        >
          {l}
        </text>
      ))}
    </g>
  );
}

export default function App() {
  const fmt = (v: number) => String(v);
  const topX0 = 199, topX1 = 816;
  const botX0 = 201, botX1 = 812;
  const topTops = [7, 138, 269, 400];
  const botTops = [697, 826, 956, 1086];
  return (
    <svg
      width={960}
      height={1515}
      viewBox="0 0 960 1515"
      style={{ position: 'absolute', left: 0, top: 0, background: '#fff' }}
    >
      <rect x={0} y={0} width={960} height={1515} fill="#fff" />
      <Panel x0={topX0} x1={topX1} top={topTops[0]} h={72} xDomain={[2000, 2010]} xTicks={yearsTop}
        yDomain={[0, 2000]} yTicks={[0, 1000, 2000]} yFmt={fmt} label="Q" isQ labelX={149} line={qTop} color={Q_RED} />
      <Panel x0={topX0} x1={topX1} top={topTops[1]} h={72} xDomain={[2000, 2010]} xTicks={yearsTop}
        yDomain={[0, 1]} yTicks={[0, 0.5, 1]} yFmt={fmt} label="TN(mg/l)" labelX={162} line={tnTopModel} color={C_RED} smooth obs={tnTopObs} />
      <Panel x0={topX0} x1={topX1} top={topTops[2]} h={72} xDomain={[2000, 2010]} xTicks={yearsTop}
        yDomain={[0, 0.4]} yTicks={[0, 0.2, 0.4]} yFmt={fmt} label="IN(mg/l)" labelX={162} line={inTopModel} color={C_RED} smooth obs={inTopObs} />
      <Panel x0={topX0} x1={topX1} top={topTops[3]} h={72} xDomain={[2000, 2010]} xTicks={yearsTop}
        yDomain={[0, 1]} yTicks={[0, 0.5, 1]} yFmt={fmt} label="ON(mg/l)" labelX={162} line={onTopModel} color={C_RED} smooth />

      <Caption lines={caption35} y0={544} widths={[888, 843, 805, 156]} />

      <Panel x0={botX0} x1={botX1} top={botTops[0]} h={72} xDomain={[1998, 2012]} xTicks={yearsBot}
        yDomain={[0, 400]} yTicks={[0, 200, 400]} yFmt={fmt} label="Q" isQ labelX={159} line={qBot} color={Q_RED} />
      <Panel x0={botX0} x1={botX1} top={botTops[1]} h={72} xDomain={[1998, 2012]} xTicks={yearsBot}
        yDomain={[0, 2]} yTicks={[0, 1, 2]} yFmt={fmt} label="TN(mg/l)" labelX={176} line={tnBotModel} color={C_RED} smooth obs={tnBotObs} />
      <Panel x0={botX0} x1={botX1} top={botTops[2]} h={72} xDomain={[1998, 2012]} xTicks={yearsBot}
        yDomain={[0, 2]} yTicks={[0, 1, 2]} yFmt={fmt} label="IN(mg/l)" labelX={176} line={inBotModel} color={C_RED} smooth obs={inBotObs} />
      <Panel x0={botX0} x1={botX1} top={botTops[3]} h={72} xDomain={[1998, 2012]} xTicks={yearsBot}
        yDomain={[0, 1]} yTicks={[0, 0.5, 1]} yFmt={fmt} label="ON(mg/l)" labelX={164} line={onBotModel} color={C_RED} smooth obs={onBotObs} />

      <Caption lines={caption36} y0={1238} widths={[956, 777, 805, 156]} />

      <text x={438} y={1433} fontFamily="'Liberation Sans Narrow', 'Liberation Sans', Arial, sans-serif" fontWeight={900}
        fontSize={57} fill="#000" stroke="#000" strokeWidth={2.5} textLength={107} lengthAdjust="spacingAndGlyphs">
        SMHI
      </text>
      {footerLines.map((l, i) => (
        <text key={i} x={492} y={1466 + i * 22} textAnchor="middle" fontFamily={SANS} fontSize={19.6} fill="#000">
          {l}
        </text>
      ))}
    </svg>
  );
}
